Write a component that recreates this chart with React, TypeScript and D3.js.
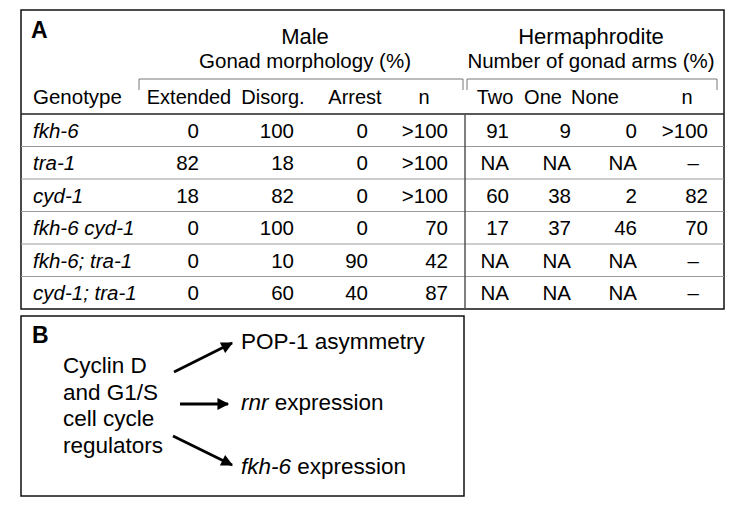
import { useEffect, useRef } from "react";
import * as d3 from "d3";

const genotypes = ["fkh-6", "tra-1", "cyd-1", "fkh-6 cyd-1", "fkh-6; tra-1", "cyd-1; tra-1"];
const maleExtended = ["0", "82", "18", "0", "0", "0"];
const maleDisorg = ["100", "18", "82", "100", "10", "60"];
const maleArrest = ["0", "0", "0", "0", "90", "40"];
const maleN = [">100", ">100", ">100", "70", "42", "87"];
const hermTwo = ["91", "NA", "60", "17", "NA", "NA"];
const hermOne = ["9", "NA", "38", "37", "NA", "NA"];
const hermNone = ["0", "NA", "2", "46", "NA", "NA"];
const hermN = [">100", "–", "82", "70", "–", "–"];

const columnLabels = ["Extended", "Disorg.", "Arrest", "n", "Two", "One", "None", "n"];
const columnValues = [maleExtended, maleDisorg, maleArrest, maleN, hermTwo, hermOne, hermNone, hermN];

const regulatorLines = ["Cyclin D", "and G1/S", "cell cycle", "regulators"];
const targets = [
  [{ t: "POP-1 asymmetry", i: false }],
  [{ t: "rnr", i: true }, { t: " expression", i: false }],
  [{ t: "fkh-6", i: true }, { t: " expression", i: false }],
];

export default function App() {
  const ref = useRef<SVGSVGElement>(null);

  useEffect(() => {
    const svg = d3.select(ref.current);
    svg.selectAll("*").remove();
    const font = "'Liberation Sans', Arial, sans-serif";
    svg.attr("font-family", font);

    // panel A frame
    const A = { x0: 21, x1: 724, y0: 10, y1: 309 };
    svg.append("rect").attr("x", A.x0).attr("y", A.y0)
      .attr("width", A.x1 - A.x0).attr("height", A.y1 - A.y0)
      .attr("fill", "none").attr("stroke", "#111").attr("stroke-width", 1.5);

    svg.append("text").attr("x", 31).attr("y", 38).attr("font-size", 23)
      .attr("font-weight", "bold").text("A");

    // group headings
    const groups = [
      { title: "Male", sub: "Gonad morphology (%)", cx: 305, b0: 139, b1: 463 },
      { title: "Hermaphrodite", sub: "Number of gonad arms (%)", cx: 591, b0: 467, b1: 717 },
    ];
    groups.forEach((g) => {
      svg.append("text").attr("x", g.cx).attr("y", 44).attr("font-size", 22)
        .attr("text-anchor", "middle").text(g.title);
      svg.append("text").attr("x", g.cx).attr("y", 68).attr("font-size", 20.5)
        .attr("text-anchor", "middle").text(g.sub);
      svg.append("path")
        .attr("d", `M${g.b0},90V79H${g.b1}V90`)
        .attr("fill", "none").attr("stroke", "#777").attr("stroke-width", 1);
    });

    // columns
    const colRight = [199, 294, 368, 448, 509, 571, 637, 708];
    const headerX = [189, 273, 355, 424, 495, 543, 595, 687];

    const y = d3.scaleBand().domain(genotypes).range([114, A.y1]);

    svg.append("text").attr("x", 33).attr("y", 104).attr("font-size", 20.5).text("Genotype");
    columnLabels.forEach((lab, i) => {
      svg.append("text").attr("x", headerX[i]).attr("y", 104).attr("font-size", 20)
        .attr("text-anchor", "middle").text(lab);
    });

    // row lines
    svg.append("line").attr("x1", A.x0).attr("x2", A.x1).attr("y1", 114).attr("y2", 114)
      .attr("stroke", "#222").attr("stroke-width", 1.5);
    genotypes.slice(1).forEach((g) => {
      svg.append("line").attr("x1", A.x0).attr("x2", A.x1)
        .attr("y1", y(g)!).attr("y2", y(g)!)
        .attr("stroke", "#999").attr("stroke-width", 1);
    });
    svg.append("line").attr("x1", 465).attr("x2", 465).attr("y1", 114).attr("y2", A.y1)
      .attr("stroke", "#555").attr("stroke-width", 1.5);

    const rowMid = (g: string) => y(g)! + y.bandwidth() / 2 + 7.5;

    svg.append("g").selectAll("text").data(genotypes).join("text")
      .attr("x", 33).attr("y", (d) => rowMid(d)).attr("font-size", 20.5)
      .attr("font-style", "italic").text((d) => d);

    columnValues.forEach((vals, ci) => {
      svg.append("g").selectAll("text").data(vals).join("text")
        .attr("x", (d) => (d === "–" ? colRight[ci] - 9 : colRight[ci]))
        .attr("y", (_d, ri) => rowMid(genotypes[ri]))
        .attr("font-size", 20.5).attr("text-anchor", "end").text((d) => d);
    });

    // panel B
    const B = { x0: 21, x1: 464, y0: 316, y1: 496 };
    svg.append("rect").attr("x", B.x0).attr("y", B.y0)
      .attr("width", B.x1 - B.x0).attr("height", B.y1 - B.y0)
      .attr("fill", "none").attr("stroke", "#111").attr("stroke-width", 1.5);
    svg.append("text").attr("x", 32).attr("y", 343).attr("font-size", 23)
      .attr("font-weight", "bold").text("B");

    svg.append("g").selectAll("text").data(regulatorLines).join("text")
      .attr("x", 63).attr("y", (_d, i) => 373 + i * 26.5).attr("font-size", 22.5).text((d) => d);

    const defs = svg.append("defs");
    defs.append("marker").attr("id", "ah").attr("viewBox", "0 0 10 10")
      .attr("refX", 9).attr("refY", 5).attr("markerWidth", 5.2).attr("markerHeight", 4.2)
      .attr("markerUnits", "strokeWidth").attr("orient", "auto")
      .append("path").attr("d", "M0,0L10,5L0,10Z").attr("fill", "#000");

    const arrows = [
      [174, 372, 232, 343],
      [180, 404, 228, 404],
      [173, 436, 232, 465],
    ];
    svg.append("g").selectAll("line").data(arrows).join("line")
      .attr("x1", (d) => d[0]).attr("y1", (d) => d[1])
      .attr("x2", (d) => d[2]).attr("y2", (d) => d[3])
      .attr("stroke", "#000").attr("stroke-width", 2.8).attr("marker-end", "url(#ah)");

    const targetY = [349, 410, 474];
    targets.forEach((parts, i) => {
      const t = svg.append("text").attr("x", 241).attr("y", targetY[i]).attr("font-size", 22.5);
      parts.forEach((p) => {
        t.append("tspan").attr("font-style", p.i ? "italic" : "normal").text(p.t);
      });
    });
  }, []);

  return (
    <svg
      ref={ref}
      width={740}
      height={509}
      style={{ position: "absolute", left: 0, top: 0, background: "#fff" }}
    />
  );
}
